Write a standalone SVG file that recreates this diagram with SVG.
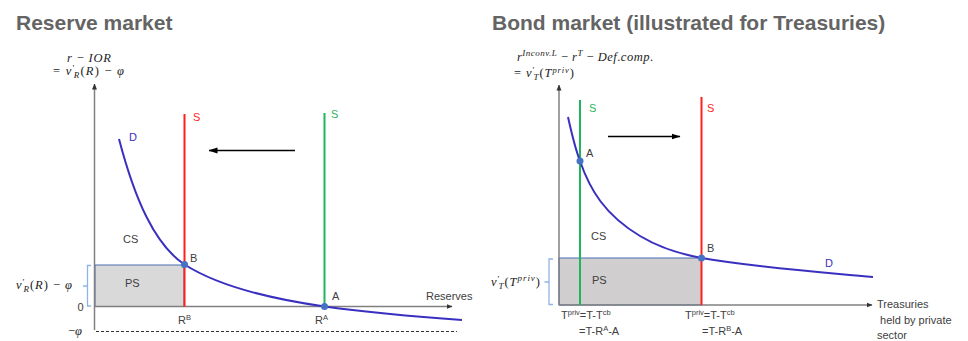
<svg xmlns="http://www.w3.org/2000/svg" width="968" height="341" viewBox="0 0 968 341">
<defs>
<marker id="ax" markerWidth="6" markerHeight="6" refX="5.5" refY="3" orient="auto" markerUnits="userSpaceOnUse"><path d="M0,0.5 L6,3 L0,5.5 z" fill="#333"/></marker>
<marker id="arr" markerWidth="9" markerHeight="7" refX="8.5" refY="3.5" orient="auto" markerUnits="userSpaceOnUse"><path d="M0,0.5 L9,3.5 L0,6.5 z" fill="#000"/></marker>
</defs>
<style>
.title{font-family:"Liberation Sans",Arial,sans-serif;font-weight:bold;font-size:21px;fill:#646464}
.lbl{font-family:"Liberation Sans",Arial,sans-serif;font-size:11px;fill:#404040}
.math{font-family:"Liberation Serif","Times New Roman",serif;font-size:12.5px;fill:#222}
.it{font-style:italic}
.axis{stroke:#808080;stroke-width:1.5;fill:none}
.dcurve{stroke:#3a30c0;stroke-width:2;fill:none}
.sred{stroke:#ff1f1f;stroke-width:2}
.sgreen{stroke:#1fb55a;stroke-width:2}
.ps{stroke:#4a6fb0;stroke-width:1}
.brace{stroke:#8eb4e3;fill:none;stroke-width:1.3}
.dot{fill:#4472c4}
.shift{stroke:#000;stroke-width:1.5;fill:none}
.red{fill:#ff1f1f}
.green{fill:#1fb55a}
.blue{fill:#3a30c0}
</style>

<g id="reserve-market">
  <text class="title" x="16" y="30">Reserve market</text>
  <g id="r-ylabel">
    <text class="math" x="67" y="62" textLength="44" lengthAdjust="spacing"><tspan class="it">r</tspan> − <tspan class="it">IOR</tspan></text>
    <text class="math" x="53" y="75" textLength="71" lengthAdjust="spacing">= <tspan class="it">v</tspan><tspan font-size="9" dy="-4">′</tspan><tspan font-size="9" class="it" dx="-2" dy="7">R</tspan><tspan dy="-3">(</tspan><tspan class="it">R</tspan>) − <tspan class="it">φ</tspan></text>
  </g>
  <g id="r-ps">
    <rect class="ps" x="95" y="265" width="89" height="41.5" fill="#d9d9d9"/>
    <text class="lbl" x="125" y="287">PS</text>
  </g>
  <text class="lbl" x="123" y="243">CS</text>
  <g id="r-axes">
    <line class="axis" x1="94.5" y1="330" x2="94.5" y2="84" marker-end="url(#ax)"/>
    <line class="axis" x1="94.5" y1="306.5" x2="452" y2="306.5" marker-end="url(#ax)" stroke="#999"/>
    <line x1="96" y1="331.5" x2="457" y2="331.5" stroke="#333" stroke-width="1" stroke-dasharray="3,2"/>
    <text class="lbl" x="426" y="299.5">Reserves</text>
    <text class="lbl" x="77.5" y="310.5">0</text>
    <text class="math" x="68" y="335"><tspan>−</tspan><tspan class="it">φ</tspan></text>
    <text class="lbl" x="178" y="324">R<tspan font-size="7.5" dy="-4">B</tspan></text>
    <text class="lbl" x="315" y="324">R<tspan font-size="7.5" dy="-4">A</tspan></text>
  </g>
  <g id="r-brace">
    <path class="brace" d="M91,265.5 H87.5 V306 H91 M87.5,286 H83"/>
    <text class="math" x="16" y="289" textLength="56" lengthAdjust="spacing"><tspan class="it">v</tspan><tspan font-size="9" dy="-4">′</tspan><tspan font-size="9" class="it" dx="-2" dy="7">R</tspan><tspan dy="-3">(</tspan><tspan class="it">R</tspan>) − <tspan class="it">φ</tspan></text>
  </g>
  <g id="r-supply-new">
    <line class="sred" x1="184.5" y1="114" x2="184.5" y2="306.5"/>
    <text class="lbl red" x="193" y="121">S</text>
  </g>
  <g id="r-supply-old">
    <line class="sgreen" x1="324.5" y1="113" x2="324.5" y2="306.5"/>
    <text class="lbl green" x="331" y="118">S</text>
  </g>
  <g id="r-demand">
    <path class="dcurve" d="M119,139 C135,200 155,245 184.5,264.5 C215,284 265,298 324.5,306.5 C380,314 420,317 462,320"/>
    <text class="lbl blue" x="129" y="141">D</text>
  </g>
  <g id="r-B">
    <circle class="dot" cx="184.5" cy="264.5" r="3.5"/>
    <text class="lbl" x="190" y="262">B</text>
  </g>
  <g id="r-A">
    <circle class="dot" cx="324.5" cy="306.5" r="3.5"/>
    <text class="lbl" x="332" y="300">A</text>
  </g>
  <g id="r-connectors">
    <line class="shift" x1="295" y1="150.5" x2="209" y2="150.5" marker-end="url(#arr)"/>
  </g>
</g>

<g id="bond-market">
  <text class="title" x="492" y="30">Bond market (illustrated for Treasuries)</text>
  <g id="b-ylabel">
    <text class="math" x="517" y="61" textLength="136" lengthAdjust="spacing"><tspan class="it">r</tspan><tspan class="it" font-size="9" dy="-5">Inconv.L</tspan><tspan dy="5"> − </tspan><tspan class="it">r</tspan><tspan class="it" font-size="9" dy="-5">T</tspan><tspan dy="5"> − </tspan><tspan class="it">Def</tspan>.<tspan class="it">comp</tspan>.</text>
    <text class="math" x="514" y="77" textLength="60" lengthAdjust="spacing">= <tspan class="it">v</tspan><tspan font-size="9" dy="-4">′</tspan><tspan font-size="9" class="it" dx="-2" dy="7">T</tspan><tspan dy="-3">(</tspan><tspan class="it">T</tspan><tspan class="it" font-size="8.5" dy="-4">priv</tspan><tspan dy="4">)</tspan></text>
  </g>
  <g id="b-ps">
    <rect class="ps" x="559" y="258" width="142.5" height="47" fill="#d0cece"/>
    <text class="lbl" x="592" y="284">PS</text>
  </g>
  <text class="lbl" x="591" y="240">CS</text>
  <g id="b-axes">
    <line class="axis" x1="559" y1="305" x2="559" y2="85" marker-end="url(#ax)"/>
    <line class="axis" x1="559" y1="305" x2="872" y2="305" marker-end="url(#ax)" stroke="#999"/>
    <text class="lbl" x="877" y="308">Treasuries</text>
    <text class="lbl" x="877" y="324" xml:space="preserve"> held by private</text>
    <text class="lbl" x="877" y="339">sector</text>
    <text class="lbl" x="561" y="319">T<tspan font-size="7.5" dy="-4">priv</tspan><tspan dy="4">=T-T</tspan><tspan font-size="7.5" dy="-4">cb</tspan></text>
    <text class="lbl" x="579" y="335">=T-R<tspan font-size="7.5" dy="-4">A</tspan><tspan dy="4">-A</tspan></text>
    <text class="lbl" x="685" y="319">T<tspan font-size="7.5" dy="-4">priv</tspan><tspan dy="4">=T-T</tspan><tspan font-size="7.5" dy="-4">cb</tspan></text>
    <text class="lbl" x="702" y="335">=T-R<tspan font-size="7.5" dy="-4">B</tspan><tspan dy="4">-A</tspan></text>
  </g>
  <g id="b-brace">
    <path class="brace" d="M553,259 H549 V304.5 H553 M549,282 H544.5"/>
    <text class="math" x="491" y="286" textLength="49" lengthAdjust="spacing"><tspan class="it">v</tspan><tspan font-size="9" dy="-4">′</tspan><tspan font-size="9" class="it" dx="-2" dy="7">T</tspan><tspan dy="-3">(</tspan><tspan class="it">T</tspan><tspan class="it" font-size="9" dy="-5">priv</tspan><tspan dy="5">)</tspan></text>
  </g>
  <g id="b-supply-old">
    <line class="sgreen" x1="580" y1="100" x2="580" y2="305"/>
    <text class="lbl green" x="589" y="112">S</text>
  </g>
  <g id="b-supply-new">
    <line class="sred" x1="701.5" y1="97" x2="701.5" y2="305"/>
    <text class="lbl red" x="707" y="112">S</text>
  </g>
  <g id="b-demand">
    <path class="dcurve" d="M568,117 C572,135 575,148 580,161 C590,190 605,215 640,236 C660,248 680,254 701.5,258 C760,268 820,272 873,277"/>
    <text class="lbl blue" x="825" y="267">D</text>
  </g>
  <g id="b-A">
    <circle class="dot" cx="580" cy="161" r="3.5"/>
    <text class="lbl" x="586" y="157">A</text>
  </g>
  <g id="b-B">
    <circle class="dot" cx="701.5" cy="258" r="3.5"/>
    <text class="lbl" x="707" y="252">B</text>
  </g>
  <g id="b-connectors">
    <line class="shift" x1="608" y1="136.5" x2="680" y2="136.5" marker-end="url(#arr)"/>
  </g>
</g>
</svg>
